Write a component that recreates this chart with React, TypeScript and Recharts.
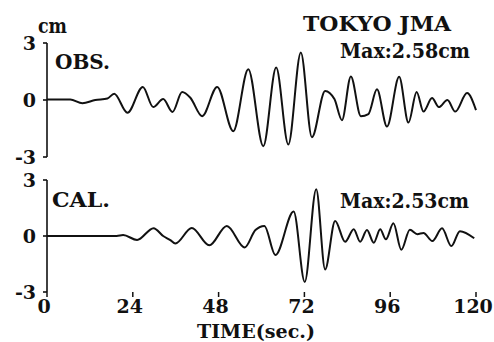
import React from "react";
import { LineChart, Line, XAxis, YAxis } from "recharts";

const xTicks = [0, 24, 48, 72, 96, 120];
const yTicks = [-3, 0, 3];

const obsTime = [0, 6.5, 9.9, 13.5, 16.9, 18.8, 22.5, 26.8, 29.7, 32.5, 35.1, 37.8, 40.1, 43.4, 47.6, 52.1, 56.3, 60.5, 64.1, 67.5, 71.0, 74.1, 77.8, 80.4, 82.5, 85.0, 87.8, 89.9, 92.3, 95.1, 98.5, 101.1, 103.4, 105.3, 107.7, 109.6, 112.0, 114.2, 117.5, 120];
const obsVal = [0.03, 0.03, -0.17, 0.0, 0.08, 0.33, -0.67, 0.69, -0.37, 0.05, -0.63, 0.42, 0.12, -0.85, 0.69, -1.64, 1.62, -2.43, 1.71, -2.34, 2.5, -1.96, 0.48, 0.05, -1.06, 1.24, -0.85, -0.74, 0.56, -1.4, 1.22, -1.19, 0.42, -0.61, 0.1, -0.37, 0.0, -0.61, 0.37, -0.53];

const calTime = [0, 19.5, 21.3, 25.2, 29.8, 32.5, 34.5, 35.9, 40.5, 45.4, 50.3, 55.3, 58.3, 60.8, 63.9, 69.0, 72.1, 75.3, 77.8, 80.6, 83.4, 85.8, 87.6, 89.5, 91.4, 93.2, 94.8, 96.9, 99.1, 101.5, 103.6, 105.3, 107.8, 110.5, 113.1, 115.5, 119.5];
const calVal = [0, 0, 0.05, -0.21, 0.42, 0.0, -0.22, -0.4, 0.43, -0.5, 0.54, -0.61, 0.32, 0.54, -1.02, 1.31, -2.46, 2.51, -1.79, 0.81, -0.31, 0.36, -0.31, 0.32, -0.36, 0.36, -0.18, 0.68, -0.74, 0.34, 0.1, 0.16, -0.27, 0.41, -0.54, 0.26, -0.12];

const obsData = obsTime.map((t, i) => ({ t, v: obsVal[i] }));
const calData = calTime.map((t, i) => ({ t, v: calVal[i] }));

const FONT = "DejaVu Serif, Liberation Serif, serif";
const INK = "#111";

const tickStyle = { fontSize: 19, fontWeight: 700, fill: INK, fontFamily: FONT };

function Panel({ data, top, height, marginTop, xHeight, showXLabels }: any) {
  return (
    <div style={{ position: "absolute", left: 0, top, width: 494, height, fontFamily: FONT }}>
      <LineChart
        width={494}
        height={height}
        data={data}
        margin={{ top: marginTop, right: 18, bottom: 0, left: 0 }}
        style={{ overflow: "visible", fontFamily: FONT }}
      >
        <XAxis
          dataKey="t"
          type="number"
          domain={[0, 120]}
          ticks={xTicks}
          axisLine={false}
          tickLine={{ stroke: INK, strokeWidth: 1.5 }}
          tickSize={5}
          tickMargin={3}
          height={xHeight}
          interval={0}
          tick={showXLabels ? { ...tickStyle, dx: -3 } : false}
        />
        <YAxis
          dataKey="v"
          type="number"
          domain={[-3, 3]}
          ticks={yTicks}
          width={47}
          interval={0}
          axisLine={{ stroke: INK, strokeWidth: 1.6 }}
          tickLine={{ stroke: INK, strokeWidth: 1.6 }}
          tickSize={4}
          tickMargin={7}
          tick={tickStyle}
        />
        <Line
          type="monotone"
          dataKey="v"
          stroke={INK}
          strokeWidth={2}
          dot={false}
          isAnimationActive={false}
        />
      </LineChart>
    </div>
  );
}

export default function App() {
  const txt = { fontWeight: 700, fill: INK, fontFamily: FONT, lengthAdjust: "spacingAndGlyphs" } as const;
  return (
    <div style={{ position: "fixed", left: 0, top: 0, width: 494, height: 342, background: "#fff", overflow: "hidden", fontFamily: FONT }}>
      <Panel data={obsData} top={0} height={175} marginTop={43} xHeight={18} showXLabels={false} />
      <Panel data={calData} top={160} height={182} marginTop={20} xHeight={50} showXLabels={true} />
      <svg width={494} height={342} style={{ position: "absolute", left: 0, top: 0, pointerEvents: "none" }}>
        <text x={38} y={33} fontSize={20} textLength={29} {...txt}>cm</text>
        <text x={55} y={69} fontSize={21} textLength={55} {...txt}>OBS.</text>
        <text x={303} y={31} fontSize={21} textLength={148} {...txt}>TOKYO JMA</text>
        <text x={340} y={58} fontSize={21} textLength={130} {...txt}>Max:2.58cm</text>
        <text x={52} y={207} fontSize={21} textLength={58} {...txt}>CAL.</text>
        <text x={340} y={208} fontSize={21} textLength={129} {...txt}>Max:2.53cm</text>
        <text x={197} y={338} fontSize={19} textLength={118} {...txt}>TIME(sec.)</text>
      </svg>
    </div>
  );
}
